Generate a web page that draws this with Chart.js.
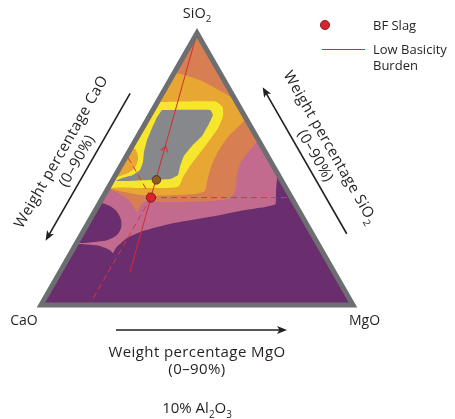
<!DOCTYPE html>
<html><head><meta charset="utf-8">
<script src="https://cdn.jsdelivr.net/npm/chart.js@4.4.1/dist/chart.umd.min.js"></script>
<style>html,body{margin:0;padding:0;background:#fff;}#wrap{width:455px;height:419px;}</style>
</head><body><div id="wrap"><canvas id="c" width="455" height="419"></canvas></div>
<script>
// All compositions are [CaO, SiO2, MgO] in wt% (normalised, 10% Al2O3 section)
const cornerLabels = ['CaO', 'SiO2', 'MgO'];
const axisTitles = ['Weight percentage CaO', 'Weight percentage SiO2', 'Weight percentage MgO'];
const axisRange = '(0–90%)';
const sectionLabel = '10% Al2O3';
const legendLabels = ['BF Slag', 'Low Basicity Burden'];

const bfSlag = [[45, 39.5, 15.5]];
const bfSlagShifted = [[40, 46, 14]];
const lowBasicityBurden = [[0, 100, 0], [65.5, 12, 22.5]];
const burdenArrow = [[31.5, 57.5, 11]];
const guideCaO = [[45, 39.5, 15.5], [45, 55, 0]];
const guideMgO = [[45, 39.5, 15.5], [84.5, 0, 15.5]];
const guideSiO2 = [[45, 39.5, 15.5], [0, 39.5, 60.5]];

const fieldBase = [[100,0,0],[0,100,0],[0,0,100],[100,0,0]];
const pinkField = [[55.4,51.5,-6.9],[82.5,22.8,-5.3],[76.3,22.4,1.3],[70.3,21.7,8.0],[67.8,20.2,12.0],[67.4,19.1,13.5],[65.5,21.0,13.5],[60.1,24.6,15.3],[53.7,27.2,19.1],[43.8,29.8,26.4],[29.6,32.4,38.0],[18.9,34.6,46.5],[10.2,36.0,53.8],[5.5,37.1,57.4],[-3.4,37.5,65.9],[-16.8,64.3,52.5],[15.0,68.0,17.0],[55.4,51.5,-6.9]];
const purpleWedge = [[-6.5,53.3,53.2],[-0.6,49.3,51.3],[1.4,46.0,52.6],[3.5,42.3,54.2],[5.4,38.6,56.0],[7.2,34.9,57.9],[-3.7,34.9,68.8],[-6.5,53.3,53.2]];
const purpleBulge = [[72.0,37.5,-9.5],[62.35,37.5,0.15],[59.7,36.4,3.9],[58.5,34.2,7.3],[58.7,31.3,10.0],[60.2,28.3,11.5],[62.8,25.7,11.5],[66.6,23.9,9.5],[71.1,23.2,5.7],[76.1,22.8,1.1],[82.6,22.6,-5.2],[72.0,37.5,-9.5]];
const terracottaBand = [[60.25,44.9,-5.15],[56.6,42.6,0.8],[54.7,41.2,4.1],[53.1,39.3,7.6],[52.3,37.1,10.6],[52.1,34.2,13.7],[49.5,36.8,13.7],[47.2,38.2,14.6],[42.9,37.9,19.2],[34.9,37.9,27.2],[26.7,38.2,35.1],[20.6,39.0,40.4],[18.3,40.4,41.3],[15.8,43.4,40.8],[13.3,47.8,38.9],[9.6,52.6,37.8],[4.5,57.0,38.5],[0.25,60.3,39.45],[-7.2,64.3,42.9],[-4.25,108.5,-4.25],[60.25,44.9,-5.15]];
const orangeBand = [[60.8,43.8,-4.6],[55.9,42.6,1.5],[52.35,41.5,6.15],[48.1,40.4,11.5],[43.4,40.1,16.5],[36.9,40.4,22.7],[30.2,40.8,29.0],[26.5,41.9,31.6],[24.2,45.2,30.6],[20.15,50.7,29.15],[15.15,56.3,28.55],[9.2,61.8,29.0],[3.1,66.2,30.7],[0.1,68.4,31.5],[-4.75,71.7,33.05],[-4.25,108.5,-4.25],[60.8,43.8,-4.6]];
const terracottaCap = [[15.85,85.7,-1.55],[11.5,84.6,3.9],[7.7,82.7,9.6],[4.3,79.8,15.9],[1.5,77.2,21.3],[-1.55,74.3,27.25],[-15.25,90.1,25.15],[-4.25,108.5,-4.25],[16.4,97.4,-13.8],[15.85,85.7,-1.55]];
const yellowRing = [[24.4,74.6,1.0],[6.7,74.8,18.5],[5.4,72.8,21.8],[6.9,69.5,23.6],[10.7,65.1,24.2],[16.0,60.3,23.7],[21.6,55.5,22.9],[26.7,51.1,22.2],[30.9,47.1,22.0],[34.1,43.6,22.3],[38.8,43.0,18.2],[46.8,43.0,10.2],[53.7,43.2,3.1],[59.6,43.0,-2.6],[55.8,47.4,-3.2],[41.5,58.0,0.5],[33.0,66.0,1.0],[24.4,74.6,1.0]];
const orangePatch = [[42.2,58.8,-1],[41.1,57.0,1.9],[41.9,54.0,4.1],[44.05,51.1,4.85],[47.05,48.9,4.05],[51.0,47.4,1.6],[53.85,46.7,-0.55],[57.75,46.7,-4.45],[49.4,57.0,-6.4],[42.2,58.8,-1]];
const grayCore = [[25.35,71.7,2.95],[9.95,71.7,18.35],[9.95,69.9,20.15],[12.95,66.5,20.55],[17.35,62.1,20.55],[22.35,58.5,19.15],[26.8,54.8,18.4],[29.85,51.1,19.05],[32.2,47.8,20.0],[35.55,46.3,18.15],[42.1,46.0,11.9],[50.3,45.6,4.1],[53.2,45.6,1.2],[50.65,46.7,2.65],[46.6,47.8,5.6],[43.5,49.6,6.9],[41.0,52.6,6.4],[38.85,56.3,4.85],[35.65,60.7,3.65],[31.85,65.1,3.05],[28.25,69.1,2.65],[25.35,71.7,2.95]];

// ternary -> cartesian (x along CaO->MgO base, y = SiO2)
const T = c => ({x: c[2] + c[1] / 2, y: c[1]});

const RED = '#d42a31';
const FONT = 'Open Sans';
const TEXT = '#231f20';

const chevron = document.createElement('canvas');
chevron.width = 12; chevron.height = 12;
(function(){const g = chevron.getContext('2d'); g.strokeStyle = RED; g.lineWidth = 1.2; g.beginPath(); g.moveTo(2.5, 9); g.lineTo(6, 3.5); g.lineTo(9.5, 9); g.stroke();})();

const poly = (label, pts, color, tension) => ({label, data: pts.map(T), fill: 'shape', backgroundColor: color,
  borderColor: 'rgba(0,0,0,0)', borderWidth: 0, pointRadius: 0, tension: tension});
const guide = (label, pts) => ({label, data: pts.map(T), fill: false, borderColor: '#e0323c', borderWidth: 1,
  borderDash: [6, 4], pointRadius: 0, tension: 0});

const datasets = [
  poly('field', fieldBase, '#6a2e6e', 0),
  poly('pink', pinkField, '#c26b8e', 0.2),
  poly('wedge', purpleWedge, '#6a2e6e', 0.2),
  poly('bulge', purpleBulge, '#6a2e6e', 0.3),
  poly('terracotta', terracottaBand, '#d77f52', 0.2),
  poly('orange', orangeBand, '#e8a633', 0.2),
  poly('cap', terracottaCap, '#d77f52', 0.2),
  poly('yellow', yellowRing, '#f6e72d', 0.15),
  poly('patch', orangePatch, '#e8a633', 0.3),
  poly('gray', grayCore, '#87888b', 0.12),
  guide('gCaO', guideCaO), guide('gMgO', guideMgO), guide('gSiO2', guideSiO2),
  {label: legendLabels[1], data: lowBasicityBurden.map(T), fill: false, borderColor: RED, borderWidth: 1, pointRadius: 0, tension: 0},
  {label: 'arrow', data: burdenArrow.map(T), showLine: false, pointStyle: chevron, rotation: 15.7, pointRadius: 6},
  {label: 'shifted', data: bfSlagShifted.map(T), showLine: false, pointRadius: 4.3, pointBackgroundColor: '#8c5a2c', pointBorderColor: '#4a2e14', pointBorderWidth: 0.8},
  {label: legendLabels[0], data: bfSlag.map(T), showLine: false, pointRadius: 4.6, pointBackgroundColor: '#d7242b', pointBorderColor: '#6e1014', pointBorderWidth: 0.8}
];
// later datasets are painted on top
datasets.forEach((d, i) => { d.order = datasets.length - i; });

function splitRich(s) {
  const parts = []; let prevLetter = false, prevSub = false;
  for (const ch of s) {
    const isDigit = /[0-9]/.test(ch);
    const sub = isDigit && (prevLetter || prevSub);
    if (parts.length && parts[parts.length-1][1] === sub) parts[parts.length-1][0] += ch; else parts.push([ch, sub]);
    prevLetter = /[A-Za-z]/.test(ch); prevSub = sub;
  }
  return parts;
}
function drawRich(ctx, s, x, y, size, align) {
  const parts = splitRich(s);
  const f = sub => (sub ? size * 0.66 : size) + 'px "' + FONT + '"';
  let w = 0;
  for (const [t, sub] of parts) { ctx.font = f(sub); w += ctx.measureText(t).width; }
  let cx = align === 'center' ? x - w / 2 : (align === 'right' ? x - w : x);
  ctx.textAlign = 'left'; ctx.textBaseline = 'alphabetic';
  for (const [t, sub] of parts) { ctx.font = f(sub); ctx.fillText(t, cx, y + (sub ? size * 0.3 : 0)); cx += ctx.measureText(t).width; }
}
function arrow(ctx, p0, p1) {
  const dx = p1.x - p0.x, dy = p1.y - p0.y, L = Math.hypot(dx, dy), ux = dx / L, uy = dy / L;
  const len = 10, hw = 4;
  ctx.beginPath(); ctx.moveTo(p0.x, p0.y); ctx.lineTo(p1.x - ux * 6, p1.y - uy * 6); ctx.stroke();
  ctx.beginPath();
  ctx.moveTo(p1.x, p1.y);
  ctx.lineTo(p1.x - ux * len - uy * hw, p1.y - uy * len + ux * hw);
  ctx.lineTo(p1.x - ux * (len - 2.5), p1.y - uy * (len - 2.5));
  ctx.lineTo(p1.x - ux * len + uy * hw, p1.y - uy * len - ux * hw);
  ctx.closePath(); ctx.fill();
}

function vertices(chart) {
  const xs = chart.scales.x, ys = chart.scales.y;
  const P = c => ({x: xs.getPixelForValue(c[2] + c[1] / 2), y: ys.getPixelForValue(c[1])});
  return {B: P([100,0,0]), A: P([0,100,0]), C: P([0,0,100])};
}
function edgePoint(P0, P1, frac, off, sign) {
  const dx = P1.x - P0.x, dy = P1.y - P0.y, L = Math.hypot(dx, dy);
  const ux = dx / L, uy = dy / L;
  const nx = sign * uy, ny = -sign * ux;
  return {x: P0.x + ux * L * frac + nx * off, y: P0.y + uy * L * frac + ny * off};
}

const ternaryPlugin = {
  id: 'ternary',
  beforeDraw(chart) {
    const {B, A, C} = vertices(chart), ctx = chart.ctx;
    ctx.save(); ctx.beginPath(); ctx.moveTo(B.x, B.y); ctx.lineTo(A.x, A.y); ctx.lineTo(C.x, C.y); ctx.closePath(); ctx.clip();
  },
  afterDatasetsDraw(chart) {
    const ctx = chart.ctx; ctx.restore();
    const {B, A, C} = vertices(chart);
    ctx.save(); ctx.strokeStyle = '#6d6e71'; ctx.lineWidth = 5; ctx.lineJoin = 'miter';
    ctx.beginPath(); ctx.moveTo(B.x, B.y); ctx.lineTo(A.x, A.y); ctx.lineTo(C.x, C.y); ctx.closePath(); ctx.stroke(); ctx.restore();
  },
  afterDraw(chart) {
    const ctx = chart.ctx; const {B, A, C} = vertices(chart);
    ctx.save(); ctx.fillStyle = TEXT; ctx.strokeStyle = TEXT; ctx.lineWidth = 1.6;
    drawRich(ctx, cornerLabels[0], B.x - 17, B.y + 20, 14, 'center');
    drawRich(ctx, cornerLabels[1], A.x, A.y - 15, 14.5, 'center');
    drawRich(ctx, cornerLabels[2], C.x + 11.5, C.y + 20, 14, 'center');
    ctx.letterSpacing = '0.4px';
    drawRich(ctx, axisTitles[2], A.x, B.y + 52, 15, 'center');
    drawRich(ctx, axisRange, A.x, B.y + 69, 15, 'center');
    ctx.letterSpacing = '0px';
    drawRich(ctx, sectionLabel, A.x, B.y + 108, 15, 'center');
    arrow(ctx, {x: B.x + 75, y: B.y + 25}, {x: B.x + 246, y: B.y + 25});
    arrow(ctx, edgePoint(B, A, 0.727, 28, 1), edgePoint(B, A, 0.185, 28, 1));
    const ang = Math.atan2(A.y - B.y, A.x - B.x);
    ctx.letterSpacing = '0.4px';
    [[axisTitles[0], 59], [axisRange, 41]].forEach(([s, off]) => {
      const p = edgePoint(B, A, 0.456, off, 1);
      ctx.save(); ctx.translate(p.x, p.y); ctx.rotate(ang); drawRich(ctx, s, 0, 5, 15, 'center'); ctx.restore();
    });
    arrow(ctx, edgePoint(C, A, 0.207, 30, -1), edgePoint(C, A, 0.746, 30, -1));
    const ang2 = Math.atan2(C.y - A.y, C.x - A.x);
    [[axisTitles[1], 59], [axisRange, 42]].forEach(([s, off]) => {
      const p = edgePoint(C, A, 0.472, off, -1);
      ctx.save(); ctx.translate(p.x, p.y); ctx.rotate(ang2); drawRich(ctx, s, 0, 5, 15, 'center'); ctx.restore();
    });
    ctx.letterSpacing = '0px';
    const dsDot = chart.data.datasets[datasets.length - 1];
    const dsLine = chart.data.datasets[13];
    ctx.beginPath(); ctx.arc(325, 25, 4.6, 0, Math.PI * 2); ctx.fillStyle = dsDot.pointBackgroundColor; ctx.fill();
    ctx.lineWidth = 0.8; ctx.strokeStyle = dsDot.pointBorderColor; ctx.stroke();
    ctx.beginPath(); ctx.moveTo(322, 49.5); ctx.lineTo(365, 49.5); ctx.lineWidth = 1; ctx.strokeStyle = dsLine.borderColor; ctx.stroke();
    ctx.fillStyle = TEXT;
    drawRich(ctx, legendLabels[0], 373, 30, 13, 'left');
    const words = legendLabels[1].split(' ');
    drawRich(ctx, words.slice(0, 2).join(' '), 373, 54, 13, 'left');
    drawRich(ctx, words.slice(2).join(' '), 373, 69.5, 13, 'left');
    ctx.restore();
  }
};

new Chart(document.getElementById('c'), {
  type: 'line',
  data: {datasets},
  options: {
    responsive: false, animation: false, events: [],
    layout: {padding: {left: 41, right: 102, top: 33, bottom: 114}},
    scales: {
      x: {type: 'linear', min: 0, max: 100, display: false},
      y: {type: 'linear', min: 0, max: 100, display: false}
    },
    plugins: {legend: {display: false}, tooltip: {enabled: false}, filler: {propagate: false}}
  },
  plugins: [ternaryPlugin]
});
</script>
</body></html>
